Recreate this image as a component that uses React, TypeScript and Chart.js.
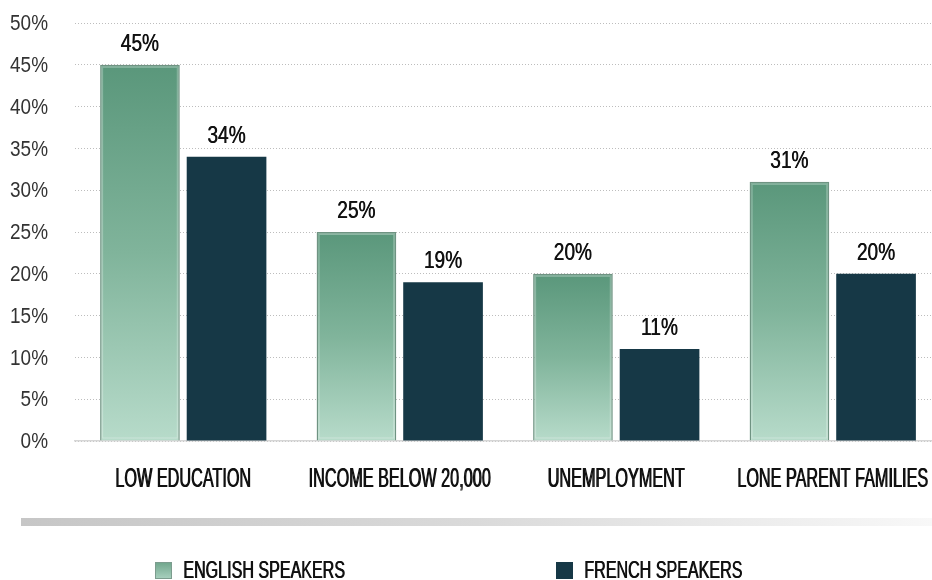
import React, { useEffect, useRef } from "react";
import { Chart, registerables } from "chart.js";
Chart.register(...registerables);

const categories = ["LOW EDUCATION", "INCOME BELOW 20,000", "UNEMPLOYMENT", "LONE PARENT FAMILIES"];
const englishValues = [45, 25, 20, 31];
const frenchValues = [34, 19, 11, 20];
const seriesNames = ["ENGLISH SPEAKERS", "FRENCH SPEAKERS"];
const yMax = 50;
const yStep = 5;

const FONT = '"Liberation Sans", Arial, sans-serif';
const NAVY = "#163846";

const greenFill = (c: any) => {
  const chart = c.chart;
  const { chartArea, scales } = chart;
  if (!chartArea || c.type !== "data") return "#7fb39a";
  const top = scales.y.getPixelForValue(c.raw);
  const bottom = scales.y.getPixelForValue(0);
  const g = chart.ctx.createLinearGradient(0, top, 0, bottom);
  g.addColorStop(0, "#5a977b");
  g.addColorStop(0.5, "#80b49b");
  g.addColorStop(1, "#b7dbca");
  return g;
};

// draw horizontally condensed text; "bold" thickens vertical stems
function condText(ctx: any, text: string, x: number, y: number, size: number, sx: number, align: string, baseline: string, color: string, bold = 0) {
  ctx.save();
  ctx.font = `${size}px ${FONT}`;
  ctx.fillStyle = color;
  ctx.textAlign = align;
  ctx.textBaseline = baseline;
  ctx.translate(x, y);
  ctx.scale(sx, 1);
  ctx.fillText(text, 0, 0);
  if (bold) ctx.fillText(text, bold / sx, 0);
  ctx.restore();
}

const decor = {
  id: "decor",
  afterDatasetsDraw(chart: any) {
    const { ctx } = chart;
    chart.getDatasetMeta(0).data.forEach((bar: any) => {
      const { x, y, base, width } = bar.getProps(["x", "y", "base", "width"], true);
      ctx.save();
      ctx.strokeStyle = "rgba(255,255,255,0.3)";
      ctx.lineWidth = 1;
      ctx.strokeRect(x - width / 2 + 2.5, y + 2.5, width - 5, base - y - 5);
      ctx.restore();
    });
    chart.data.datasets.forEach((ds: any, i: number) => {
      chart.getDatasetMeta(i).data.forEach((bar: any, j: number) => {
        condText(ctx, ds.data[j] + "%", bar.x - 0.3, bar.y - 14, 23, 0.83, "center", "alphabetic", "#111", 0.5);
      });
    });
  },
  afterDraw(chart: any) {
    const { ctx, chartArea, scales } = chart;
    // y tick labels
    scales.y.ticks.forEach((t: any) => {
      const y = scales.y.getPixelForValue(t.value);
      condText(ctx, t.value + "%", chartArea.left - 27, y + 1, 22.3, 0.85, "right", "middle", "#333");
    });
    // x tick labels
    categories.forEach((c, i) => {
      const x = scales.x.getPixelForTick(i);
      condText(ctx, c, x - 0.4, chartArea.bottom + 46, 27.5, 0.59, "center", "alphabetic", "#111", 0.8);
    });
    ctx.save();
    const gy = chartArea.bottom + 77;
    const g = ctx.createLinearGradient(21, 0, 932, 0);
    g.addColorStop(0, "#c6c6c6");
    g.addColorStop(0.5, "#dadada");
    g.addColorStop(1, "#f8f8f8");
    ctx.fillStyle = g;
    ctx.fillRect(21, gy, 932 - 21, 8);
    ctx.restore();
    // legend
    const ly = 562;
    const items = [
      { x: 155, label: seriesNames[0], green: true },
      { x: 556, label: seriesNames[1], green: false },
    ];
    items.forEach((it) => {
      ctx.save();
      if (it.green) {
        const lg = ctx.createLinearGradient(0, ly, 0, ly + 17);
        lg.addColorStop(0, "#6fa58b");
        lg.addColorStop(1, "#a9d1bf");
        ctx.fillStyle = lg;
        ctx.fillRect(it.x, ly, 17, 17);
        ctx.strokeStyle = "#7c9c8e";
        ctx.lineWidth = 1;
        ctx.strokeRect(it.x + 0.5, ly + 0.5, 16, 16);
      } else {
        ctx.fillStyle = NAVY;
        ctx.fillRect(it.x, ly, 17, 17);
      }
      ctx.restore();
      condText(ctx, it.label, it.x + 28, ly + 15.5, 23.3, 0.69, "left", "alphabetic", "#111", 0.7);
    });
  },
};

export default function App() {
  const ref = useRef<HTMLCanvasElement>(null);
  useEffect(() => {
    const chart = new Chart(ref.current!, {
      type: "bar",
      data: {
        labels: categories,
        datasets: [
          {
            label: seriesNames[0],
            data: englishValues,
            backgroundColor: greenFill as any,
            borderColor: "#6f9382",
            borderWidth: 1.5,
            barPercentage: 0.92,
            categoryPercentage: 0.8,
          },
          {
            label: seriesNames[1],
            data: frenchValues,
            backgroundColor: NAVY,
            borderWidth: 0,
            barPercentage: 0.92,
            categoryPercentage: 0.8,
          },
        ],
      },
      options: {
        animation: false,
        responsive: false,
        devicePixelRatio: 1,
        layout: { padding: { top: 23, left: 75, right: 0, bottom: 139 } },
        plugins: { legend: { display: false }, tooltip: { enabled: false } },
        scales: {
          x: {
            grid: { display: false, drawTicks: false },
            border: { display: true, color: "#d6d6d6", width: 1.5 },
            ticks: { display: false },
          },
          y: {
            min: 0,
            max: yMax,
            ticks: { stepSize: yStep, display: false },
            grid: { color: "#bdbdbd", drawTicks: false, lineWidth: 1 },
            border: { display: false, dash: [1, 2] },
          },
        },
      },
      plugins: [decor],
    });
    return () => chart.destroy();
  }, []);
  return (
    <div style={{ position: "fixed", left: 0, top: 0, width: 932, height: 580, overflow: "hidden", background: "#fff" }}>
      <canvas ref={ref} width={941} height={580} style={{ width: 941, height: 580, display: "block" }} />
    </div>
  );
}
